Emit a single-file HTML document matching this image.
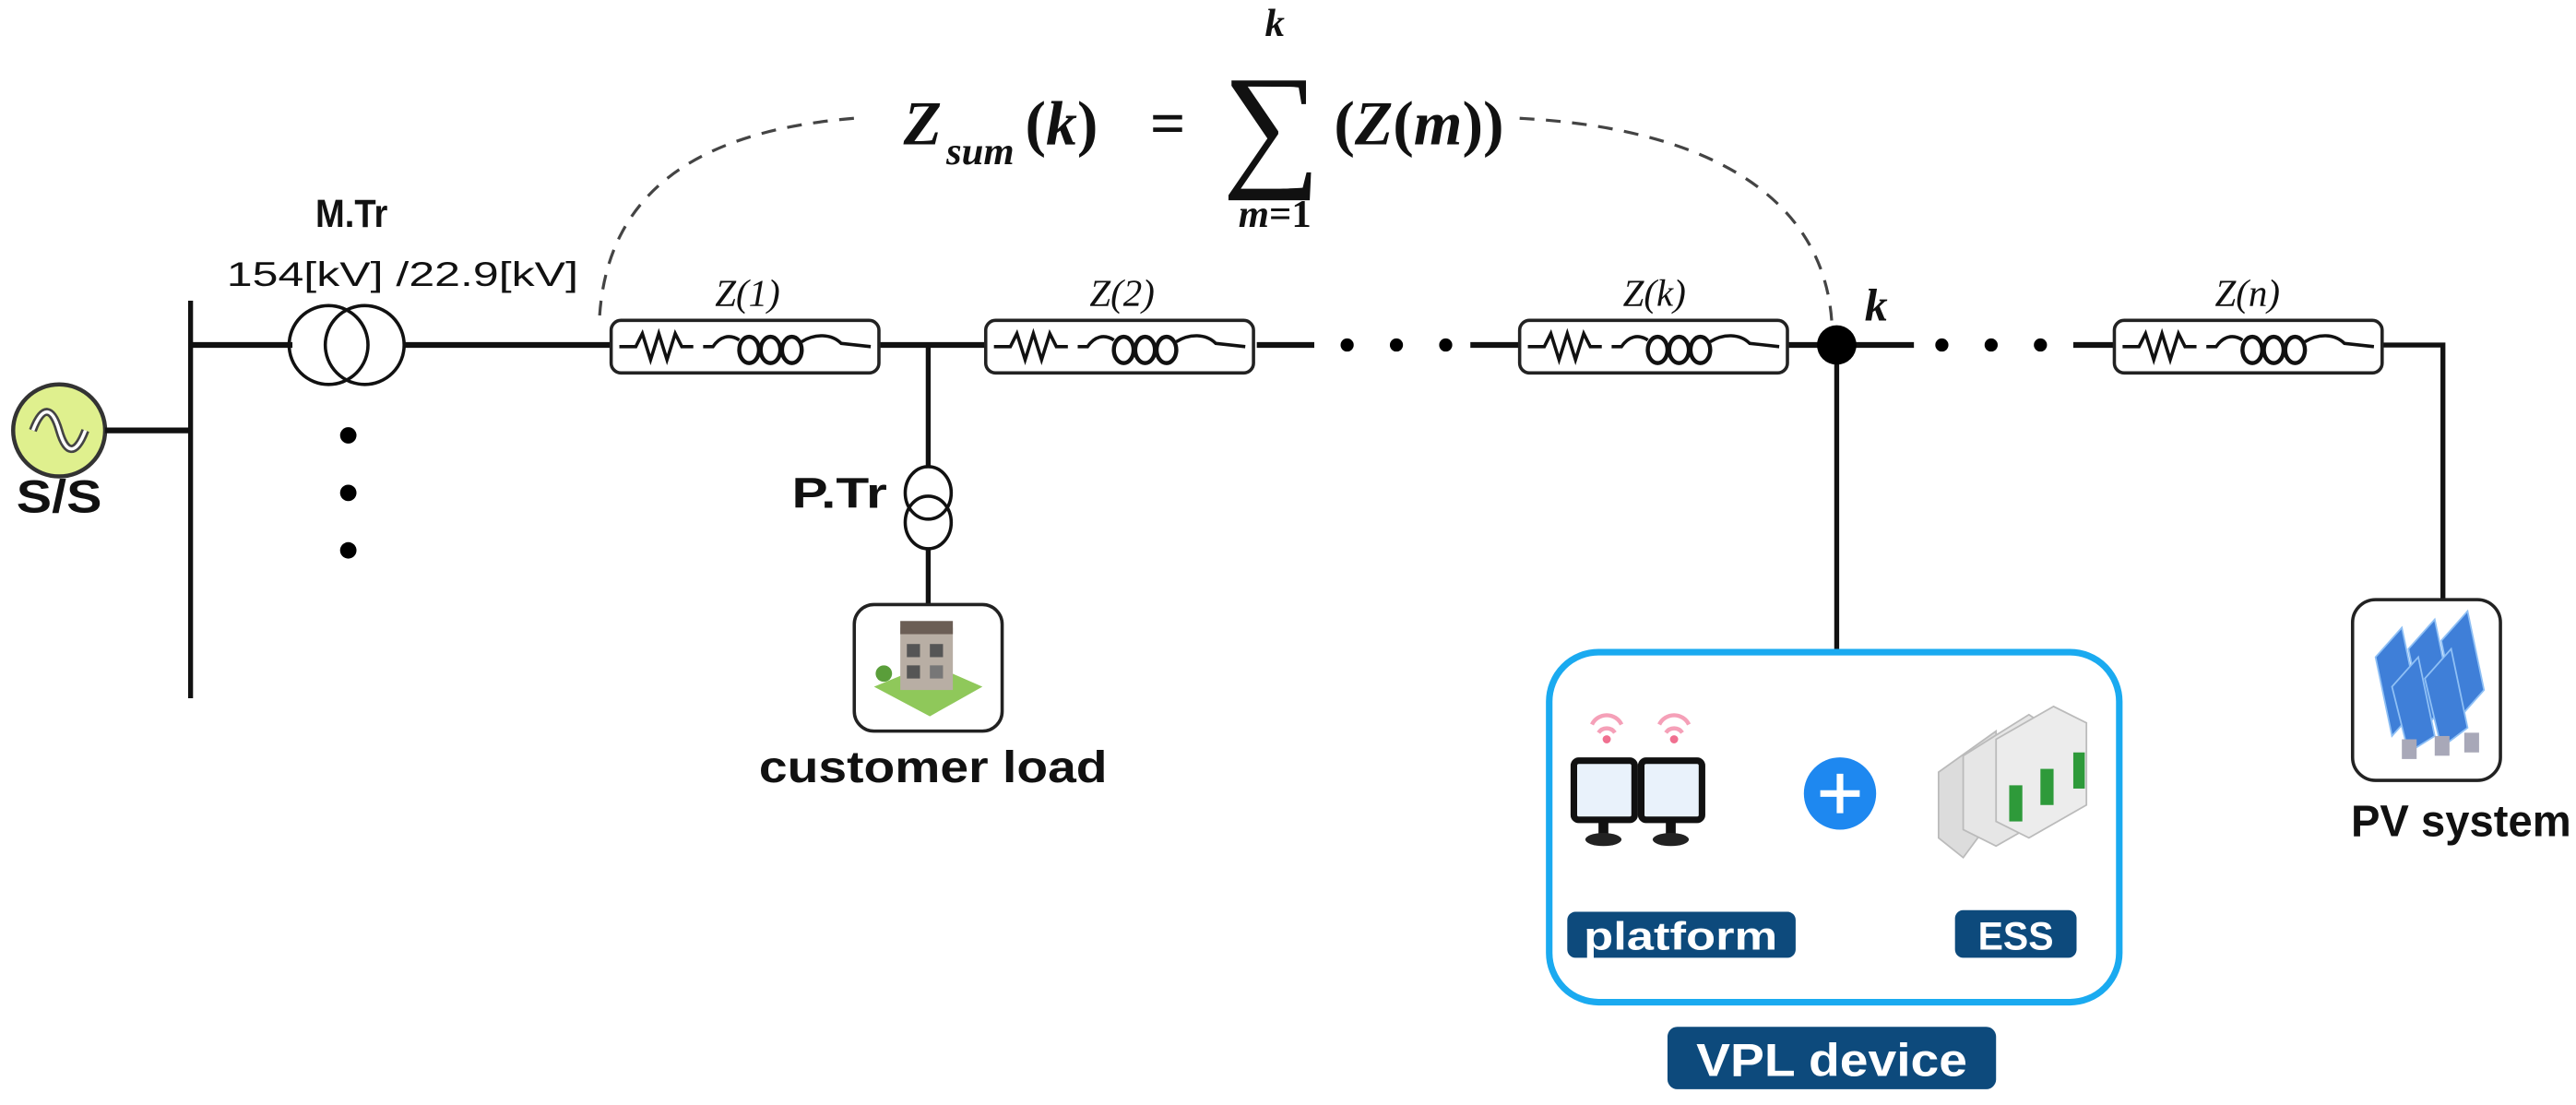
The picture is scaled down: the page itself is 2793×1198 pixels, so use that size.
<!DOCTYPE html>
<html><head><meta charset="utf-8"><style>
html,body{margin:0;padding:0;background:#fff;}
svg{display:block;}
</style></head><body>
<svg width="2793" height="1198" viewBox="0 0 1568 672.6" preserveAspectRatio="none" xmlns="http://www.w3.org/2000/svg">
<defs>
<g id="zbox">
  <rect x="0" y="0" width="163" height="32" rx="6" fill="#fff" stroke="#222" stroke-width="2"/>
  <path d="M5,16 H15 L19,8 L24,24 L29,8 L34,24 L39,8 L43,16 H50 M56,16 H62 C66,10 72,8 78,12" fill="none" stroke="#111" stroke-width="2"/>
  <ellipse cx="84" cy="18" rx="6" ry="8" fill="none" stroke="#111" stroke-width="2.5"/>
  <ellipse cx="97" cy="18" rx="6" ry="8" fill="none" stroke="#111" stroke-width="2.5"/>
  <ellipse cx="110" cy="18" rx="6" ry="8" fill="none" stroke="#111" stroke-width="2.5"/>
  <path d="M116,13 C124,8 134,8 140,14 L158,16" fill="none" stroke="#111" stroke-width="2"/>
</g>
</defs>
<g fill="none" stroke="#111">
  <circle cx="36" cy="262" r="28" fill="#dff08e" stroke="#333" stroke-width="2.5"/>
  <path d="M20,262 C26,246 32,248 36,262 C40,276 46,278 52,262" stroke="#444" stroke-width="5"/>
  <path d="M20,262 C26,246 32,248 36,262 C40,276 46,278 52,262" stroke="#fff" stroke-width="2"/>
  <line x1="64" y1="262" x2="116" y2="262" stroke-width="3.5"/>
  <line x1="116" y1="183" x2="116" y2="425" stroke-width="3"/>
  <line x1="116" y1="210" x2="178" y2="210" stroke-width="3.5"/>
  <circle cx="200" cy="210" r="24" stroke-width="2"/>
  <circle cx="222" cy="210" r="24" stroke-width="2"/>
  <line x1="246" y1="210" x2="372" y2="210" stroke-width="3.5"/>
  <line x1="535" y1="210" x2="600" y2="210" stroke-width="3.5"/>
  <line x1="765" y1="210" x2="800" y2="210" stroke-width="3.5"/>
  <line x1="895" y1="210" x2="925" y2="210" stroke-width="3.5"/>
  <line x1="1088" y1="210" x2="1165" y2="210" stroke-width="3.5"/>
  <line x1="1262" y1="210" x2="1287" y2="210" stroke-width="3.5"/>
  <path d="M1450,210 H1487 V365" stroke-width="3"/>
  <line x1="565" y1="210" x2="565" y2="285" stroke-width="3"/>
  <ellipse cx="565" cy="300" rx="14" ry="16" stroke-width="2"/>
  <ellipse cx="565" cy="318" rx="14" ry="16" stroke-width="2"/>
  <line x1="565" y1="334" x2="565" y2="368" stroke-width="3"/>
  <line x1="1118" y1="210" x2="1118" y2="397" stroke-width="3"/>
  <path d="M365,192 C370,120 420,80 520,72" stroke="#444" stroke-width="1.8" stroke-dasharray="9,7"/>
  <path d="M925,72 C1040,78 1110,120 1115,196" stroke="#444" stroke-width="1.8" stroke-dasharray="9,7"/>
</g>
<circle cx="1118" cy="210" r="12" fill="#000"/>
<g fill="#000">
  <circle cx="212" cy="265" r="5"/><circle cx="212" cy="300" r="5"/><circle cx="212" cy="335" r="5"/>
  <circle cx="820" cy="210" r="4"/><circle cx="850" cy="210" r="4"/><circle cx="880" cy="210" r="4"/>
  <circle cx="1182" cy="210" r="4"/><circle cx="1212" cy="210" r="4"/><circle cx="1242" cy="210" r="4"/>
</g>
<use href="#zbox" x="372" y="195"/>
<use href="#zbox" x="600" y="195"/>
<use href="#zbox" x="925" y="195"/>
<use href="#zbox" x="1287" y="195"/>
<g font-family="Liberation Sans, sans-serif" font-weight="bold" fill="#111" text-anchor="middle">
  <text x="36" y="312" font-size="28" textLength="52" lengthAdjust="spacingAndGlyphs">S/S</text>
  <text x="214" y="138" font-size="24" textLength="44" lengthAdjust="spacingAndGlyphs">M.Tr</text>
  <text x="245" y="174" font-size="21" font-weight="normal" textLength="214" lengthAdjust="spacingAndGlyphs">154[kV] /22.9[kV]</text>
  <text x="511" y="309" font-size="26" textLength="58" lengthAdjust="spacingAndGlyphs">P.Tr</text>
  <text x="568" y="476" font-size="27" textLength="212" lengthAdjust="spacingAndGlyphs">customer load</text>
  <text x="1498" y="509" font-size="27" textLength="134" lengthAdjust="spacingAndGlyphs">PV system</text>
</g>
<g font-family="Liberation Serif, serif" font-style="italic" fill="#111" text-anchor="middle" font-size="23">
  <text x="455" y="186">Z(1)</text>
  <text x="683" y="186">Z(2)</text>
  <text x="1007" y="186">Z(k)</text>
  <text x="1368" y="186">Z(n)</text>
  <text x="1142" y="195" font-size="28" font-weight="bold">k</text>
</g>
<g font-family="Liberation Serif, serif" fill="#111" font-weight="bold">
  <text x="550" y="88" font-size="38" font-style="italic">Z</text>
  <text x="576" y="100" font-size="24" font-style="italic">sum</text>
  <text x="624" y="88" font-size="38">(<tspan font-style="italic">k</tspan>)</text>
  <text x="700" y="88" font-size="38">=</text>
  <text x="744" y="104" font-size="84" font-weight="normal">∑</text>
  <text x="776" y="22" font-size="24" font-style="italic" text-anchor="middle">k</text>
  <text x="776" y="138" font-size="24" text-anchor="middle"><tspan font-style="italic">m</tspan>=1</text>
  <text x="812" y="88" font-size="38">(<tspan font-style="italic">Z</tspan>(<tspan font-style="italic">m</tspan>))</text>
</g>
<rect x="520" y="368" width="90" height="77" rx="12" fill="#fff" stroke="#222" stroke-width="2"/>
<polygon points="532,418 566,404 598,418 566,436" fill="#8fc85a"/>
<rect x="548" y="382" width="32" height="38" fill="#b8aea4"/>
<rect x="548" y="378" width="32" height="8" fill="#6b5e55"/>
<rect x="552" y="392" width="8" height="8" fill="#555"/><rect x="566" y="392" width="8" height="8" fill="#555"/>
<rect x="552" y="405" width="8" height="8" fill="#555"/><rect x="566" y="405" width="8" height="8" fill="#777"/>
<circle cx="538" cy="410" r="5" fill="#5a9e3a"/>
<rect x="1432" y="365" width="90" height="110" rx="14" fill="#fff" stroke="#222" stroke-width="2"/>
<g fill="#3f7fd8" stroke="#8fc0f5" stroke-width="1">
  <polygon points="1446,400 1462,382 1472,430 1456,448"/>
  <polygon points="1466,395 1482,377 1492,425 1476,443"/>
  <polygon points="1486,390 1502,372 1512,420 1496,438"/>
  <polygon points="1456,418 1472,400 1482,448 1466,458"/>
  <polygon points="1476,413 1492,395 1502,443 1486,455"/>
</g>
<g fill="#a8a8b8"><rect x="1462" y="450" width="9" height="12"/><rect x="1482" y="448" width="9" height="12"/><rect x="1500" y="446" width="9" height="12"/></g>
<rect x="943" y="397" width="347" height="213" rx="30" fill="#fff" stroke="#1aaaf0" stroke-width="4"/>
<g>
  <rect x="958" y="463" width="37" height="36" rx="3" fill="#e9f2fb" stroke="#111" stroke-width="4"/>
  <rect x="999" y="463" width="37" height="36" rx="3" fill="#e9f2fb" stroke="#111" stroke-width="4"/>
  <rect x="973" y="499" width="6" height="10" fill="#111"/><rect x="1014" y="499" width="6" height="10" fill="#111"/>
  <ellipse cx="976" cy="511" rx="11" ry="4" fill="#222"/><ellipse cx="1017" cy="511" rx="11" ry="4" fill="#222"/>
  <g fill="none" stroke="#f5a0b8" stroke-width="2.5">
    <path d="M969,441 a10,10 0 0 1 18,0"/><path d="M973,446 a6,6 0 0 1 10,0"/>
    <path d="M1010,441 a10,10 0 0 1 18,0"/><path d="M1014,446 a6,6 0 0 1 10,0"/>
  </g>
  <circle cx="978" cy="450" r="2.5" fill="#f07090"/><circle cx="1019" cy="450" r="2.5" fill="#f07090"/>
</g>
<circle cx="1120" cy="483" r="22" fill="#1e88f0"/>
<path d="M1108,483 H1132 M1120,471 V495" stroke="#fff" stroke-width="4"/>
<g>
  <polygon points="1180,470 1215,445 1215,495 1195,522 1180,510" fill="#dcdcdc" stroke="#bbb"/>
  <polygon points="1195,460 1235,435 1250,445 1250,495 1215,515 1195,505" fill="#e6e6e6" stroke="#bbb"/>
  <polygon points="1215,450 1250,430 1270,440 1270,490 1235,510 1215,500" fill="#ececec" stroke="#bbb"/>
  <rect x="1223" y="478" width="8" height="22" fill="#2e9a3a"/>
  <rect x="1242" y="468" width="8" height="22" fill="#2e9a3a"/>
  <rect x="1262" y="458" width="7" height="22" fill="#2e9a3a"/>
</g>
<rect x="954" y="555" width="139" height="28" rx="5" fill="#0d4a7c"/>
<rect x="1190" y="554" width="74" height="29" rx="5" fill="#0d4a7c"/>
<rect x="1015" y="625" width="200" height="38" rx="6" fill="#0d4a7c"/>
<g font-family="Liberation Sans, sans-serif" font-weight="bold" fill="#fff" text-anchor="middle">
  <text x="1023" y="578" font-size="24" textLength="118" lengthAdjust="spacingAndGlyphs">platform</text>
  <text x="1227" y="578" font-size="24" textLength="46" lengthAdjust="spacingAndGlyphs">ESS</text>
  <text x="1115" y="655" font-size="28" textLength="165" lengthAdjust="spacingAndGlyphs">VPL device</text>
</g>
</svg>
</body></html>
